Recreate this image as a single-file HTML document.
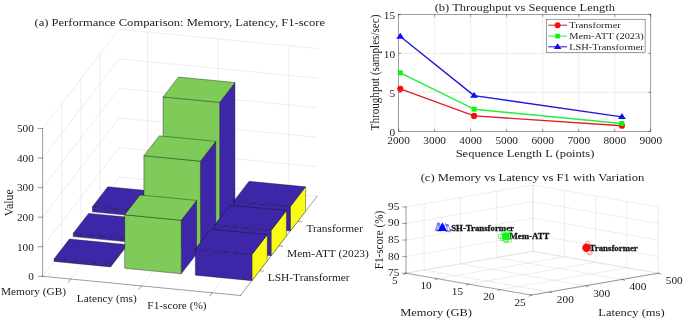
<!DOCTYPE html>
<html><head><meta charset="utf-8"><title>Figure</title>
<style>html,body{margin:0;padding:0;background:#fff}svg{display:block}text{font-family:"Liberation Serif","Times New Roman",serif}</style>
</head><body>
<svg width="685" height="320" viewBox="0 0 685 320">
<rect width="685" height="320" fill="#fff"/>
<g id="plotA">
<line x1="42.55" y1="276.30" x2="119.27" y2="177.10" stroke="#d6d6d6" stroke-width="0.45" />
<line x1="119.27" y1="177.10" x2="317.12" y2="196.31" stroke="#d6d6d6" stroke-width="0.45" />
<line x1="42.55" y1="246.74" x2="119.27" y2="147.54" stroke="#d6d6d6" stroke-width="0.45" />
<line x1="119.27" y1="147.54" x2="317.12" y2="166.75" stroke="#d6d6d6" stroke-width="0.45" />
<line x1="42.55" y1="217.18" x2="119.27" y2="117.98" stroke="#d6d6d6" stroke-width="0.45" />
<line x1="119.27" y1="117.98" x2="317.12" y2="137.19" stroke="#d6d6d6" stroke-width="0.45" />
<line x1="42.55" y1="187.62" x2="119.27" y2="88.42" stroke="#d6d6d6" stroke-width="0.45" />
<line x1="119.27" y1="88.42" x2="317.12" y2="107.63" stroke="#d6d6d6" stroke-width="0.45" />
<line x1="42.55" y1="158.06" x2="119.27" y2="58.86" stroke="#d6d6d6" stroke-width="0.45" />
<line x1="119.27" y1="58.86" x2="317.12" y2="78.07" stroke="#d6d6d6" stroke-width="0.45" />
<line x1="42.55" y1="128.50" x2="119.27" y2="29.30" stroke="#d6d6d6" stroke-width="0.45" />
<line x1="119.27" y1="29.30" x2="317.12" y2="48.51" stroke="#d6d6d6" stroke-width="0.45" />
<line x1="61.73" y1="251.50" x2="61.73" y2="103.70" stroke="#d6d6d6" stroke-width="0.45" />
<line x1="61.73" y1="251.50" x2="259.58" y2="270.71" stroke="#d6d6d6" stroke-width="0.45" />
<line x1="80.91" y1="226.70" x2="80.91" y2="78.90" stroke="#d6d6d6" stroke-width="0.45" />
<line x1="80.91" y1="226.70" x2="278.76" y2="245.91" stroke="#d6d6d6" stroke-width="0.45" />
<line x1="100.09" y1="201.90" x2="100.09" y2="54.10" stroke="#d6d6d6" stroke-width="0.45" />
<line x1="100.09" y1="201.90" x2="297.94" y2="221.11" stroke="#d6d6d6" stroke-width="0.45" />
<line x1="147.53" y1="179.84" x2="147.53" y2="32.04" stroke="#d6d6d6" stroke-width="0.45" />
<line x1="70.81" y1="279.04" x2="147.53" y2="179.84" stroke="#d6d6d6" stroke-width="0.45" />
<line x1="218.19" y1="186.70" x2="218.19" y2="38.90" stroke="#d6d6d6" stroke-width="0.45" />
<line x1="141.47" y1="285.90" x2="218.19" y2="186.70" stroke="#d6d6d6" stroke-width="0.45" />
<line x1="288.85" y1="193.56" x2="288.85" y2="45.76" stroke="#d6d6d6" stroke-width="0.45" />
<line x1="212.13" y1="292.76" x2="288.85" y2="193.56" stroke="#d6d6d6" stroke-width="0.45" />
<line x1="42.55" y1="276.30" x2="42.55" y2="128.50" stroke="#262626" stroke-width="0.45" stroke-linecap="square"/>
<line x1="42.55" y1="276.30" x2="240.40" y2="295.51" stroke="#262626" stroke-width="0.45" stroke-linecap="square"/>
<line x1="240.40" y1="295.51" x2="317.12" y2="196.31" stroke="#262626" stroke-width="0.45" stroke-linecap="square"/>
<line x1="38.25" y1="276.30" x2="42.55" y2="276.30" stroke="#262626" stroke-width="0.45" stroke-linecap="square"/>
<text transform="translate(33.85 280.10) scale(1 0.89)" font-size="11.3" text-anchor="end" font-weight="normal" fill="#1c1c1c">0</text>
<line x1="38.25" y1="246.74" x2="42.55" y2="246.74" stroke="#262626" stroke-width="0.45" stroke-linecap="square"/>
<text transform="translate(33.85 250.54) scale(1 0.89)" font-size="11.3" text-anchor="end" font-weight="normal" fill="#1c1c1c">100</text>
<line x1="38.25" y1="217.18" x2="42.55" y2="217.18" stroke="#262626" stroke-width="0.45" stroke-linecap="square"/>
<text transform="translate(33.85 220.98) scale(1 0.89)" font-size="11.3" text-anchor="end" font-weight="normal" fill="#1c1c1c">200</text>
<line x1="38.25" y1="187.62" x2="42.55" y2="187.62" stroke="#262626" stroke-width="0.45" stroke-linecap="square"/>
<text transform="translate(33.85 191.42) scale(1 0.89)" font-size="11.3" text-anchor="end" font-weight="normal" fill="#1c1c1c">300</text>
<line x1="38.25" y1="158.06" x2="42.55" y2="158.06" stroke="#262626" stroke-width="0.45" stroke-linecap="square"/>
<text transform="translate(33.85 161.86) scale(1 0.89)" font-size="11.3" text-anchor="end" font-weight="normal" fill="#1c1c1c">400</text>
<line x1="38.25" y1="128.50" x2="42.55" y2="128.50" stroke="#262626" stroke-width="0.45" stroke-linecap="square"/>
<text transform="translate(33.85 132.30) scale(1 0.89)" font-size="11.3" text-anchor="end" font-weight="normal" fill="#1c1c1c">500</text>
<line x1="70.81" y1="279.04" x2="68.31" y2="282.24" stroke="#262626" stroke-width="0.45" stroke-linecap="square"/>
<line x1="141.47" y1="285.90" x2="138.97" y2="289.10" stroke="#262626" stroke-width="0.45" stroke-linecap="square"/>
<line x1="212.13" y1="292.76" x2="209.63" y2="295.96" stroke="#262626" stroke-width="0.45" stroke-linecap="square"/>
<line x1="259.58" y1="270.71" x2="263.38" y2="271.11" stroke="#262626" stroke-width="0.45" stroke-linecap="square"/>
<line x1="278.76" y1="245.91" x2="282.56" y2="246.31" stroke="#262626" stroke-width="0.45" stroke-linecap="square"/>
<line x1="297.94" y1="221.11" x2="301.74" y2="221.51" stroke="#262626" stroke-width="0.45" stroke-linecap="square"/>
<polygon points="148.95,217.31 164.29,197.47 164.29,192.30 148.95,212.13" fill="#3d26a8" stroke="#101010" stroke-width="0.38" stroke-linejoin="round"/>
<polygon points="92.42,211.82 148.95,217.31 148.95,212.13 92.42,206.65" fill="#3d26a8" stroke="#101010" stroke-width="0.38" stroke-linejoin="round"/>
<polygon points="92.42,206.65 148.95,212.13 164.29,192.30 107.76,186.81" fill="#3d26a8" stroke="#101010" stroke-width="0.38" stroke-linejoin="round"/>
<polygon points="219.61,224.17 234.95,204.33 234.95,82.54 219.61,102.38" fill="#3d26a8" stroke="#101010" stroke-width="0.38" stroke-linejoin="round"/>
<polygon points="163.08,218.68 219.61,224.17 219.61,102.38 163.08,96.89" fill="#7fcb5a" stroke="#101010" stroke-width="0.38" stroke-linejoin="round"/>
<polygon points="163.08,96.89 219.61,102.38 234.95,82.54 178.42,77.05" fill="#7fcb5a" stroke="#101010" stroke-width="0.38" stroke-linejoin="round"/>
<polygon points="290.27,231.03 305.61,211.19 305.61,186.80 290.27,206.64" fill="#f9fb15" stroke="#101010" stroke-width="0.38" stroke-linejoin="round"/>
<polygon points="233.74,225.54 290.27,231.03 290.27,206.64 233.74,201.15" fill="#3d26a8" stroke="#101010" stroke-width="0.38" stroke-linejoin="round"/>
<polygon points="233.74,201.15 290.27,206.64 305.61,186.80 249.08,181.31" fill="#3d26a8" stroke="#101010" stroke-width="0.38" stroke-linejoin="round"/>
<polygon points="129.77,242.11 145.11,222.27 145.11,218.87 129.77,238.71" fill="#3d26a8" stroke="#101010" stroke-width="0.38" stroke-linejoin="round"/>
<polygon points="73.24,236.62 129.77,242.11 129.77,238.71 73.24,233.22" fill="#3d26a8" stroke="#101010" stroke-width="0.38" stroke-linejoin="round"/>
<polygon points="73.24,233.22 129.77,238.71 145.11,218.87 88.58,213.38" fill="#3d26a8" stroke="#101010" stroke-width="0.38" stroke-linejoin="round"/>
<polygon points="200.43,248.97 215.77,229.13 215.77,141.33 200.43,161.17" fill="#3d26a8" stroke="#101010" stroke-width="0.38" stroke-linejoin="round"/>
<polygon points="143.90,243.48 200.43,248.97 200.43,161.17 143.90,155.69" fill="#7fcb5a" stroke="#101010" stroke-width="0.38" stroke-linejoin="round"/>
<polygon points="143.90,155.69 200.43,161.17 215.77,141.33 159.24,135.85" fill="#7fcb5a" stroke="#101010" stroke-width="0.38" stroke-linejoin="round"/>
<polygon points="271.09,255.83 286.43,235.99 286.43,210.57 271.09,230.41" fill="#f9fb15" stroke="#101010" stroke-width="0.38" stroke-linejoin="round"/>
<polygon points="214.56,250.34 271.09,255.83 271.09,230.41 214.56,224.92" fill="#3d26a8" stroke="#101010" stroke-width="0.38" stroke-linejoin="round"/>
<polygon points="214.56,224.92 271.09,230.41 286.43,210.57 229.90,205.08" fill="#3d26a8" stroke="#101010" stroke-width="0.38" stroke-linejoin="round"/>
<polygon points="110.59,266.91 125.93,247.07 125.93,244.56 110.59,264.40" fill="#3d26a8" stroke="#101010" stroke-width="0.38" stroke-linejoin="round"/>
<polygon points="54.06,261.42 110.59,266.91 110.59,264.40 54.06,258.91" fill="#3d26a8" stroke="#101010" stroke-width="0.38" stroke-linejoin="round"/>
<polygon points="54.06,258.91 110.59,264.40 125.93,244.56 69.40,239.07" fill="#3d26a8" stroke="#101010" stroke-width="0.38" stroke-linejoin="round"/>
<polygon points="181.25,273.77 196.59,253.93 196.59,200.42 181.25,220.26" fill="#3d26a8" stroke="#101010" stroke-width="0.38" stroke-linejoin="round"/>
<polygon points="124.72,268.28 181.25,273.77 181.25,220.26 124.72,214.78" fill="#7fcb5a" stroke="#101010" stroke-width="0.38" stroke-linejoin="round"/>
<polygon points="124.72,214.78 181.25,220.26 196.59,200.42 140.06,194.94" fill="#7fcb5a" stroke="#101010" stroke-width="0.38" stroke-linejoin="round"/>
<polygon points="251.91,280.63 267.25,260.79 267.25,234.63 251.91,254.47" fill="#f9fb15" stroke="#101010" stroke-width="0.38" stroke-linejoin="round"/>
<polygon points="195.38,275.14 251.91,280.63 251.91,254.47 195.38,248.98" fill="#3d26a8" stroke="#101010" stroke-width="0.38" stroke-linejoin="round"/>
<polygon points="195.38,248.98 251.91,254.47 267.25,234.63 210.72,229.14" fill="#3d26a8" stroke="#101010" stroke-width="0.38" stroke-linejoin="round"/>
<text transform="translate(179.80 26.00) scale(1 0.89)" font-size="12.56" text-anchor="middle" font-weight="normal" fill="#1c1c1c">(a) Performance Comparison: Memory, Latency, F1-score</text>
<text transform="translate(33.50 295.00) scale(1 0.89)" font-size="11.3" text-anchor="middle" font-weight="normal" fill="#1c1c1c">Memory (GB)</text>
<text transform="translate(106.80 301.80) scale(1 0.89)" font-size="11.3" text-anchor="middle" font-weight="normal" fill="#1c1c1c">Latency (ms)</text>
<text transform="translate(177.00 308.50) scale(1 0.89)" font-size="11.3" text-anchor="middle" font-weight="normal" fill="#1c1c1c">F1-score (%)</text>
<text transform="translate(267.80 281.20) scale(1 0.89)" font-size="11.4" text-anchor="start" font-weight="normal" fill="#1c1c1c">LSH-Transformer</text>
<text transform="translate(287.10 256.60) scale(1 0.89)" font-size="11.4" text-anchor="start" font-weight="normal" fill="#1c1c1c">Mem-ATT (2023)</text>
<text transform="translate(306.40 231.90) scale(1 0.89)" font-size="11.4" text-anchor="start" font-weight="normal" fill="#1c1c1c">Transformer</text>
<text transform="translate(12.90 202.80) rotate(-90) scale(0.945 1)" font-size="12.5" text-anchor="middle" font-weight="normal" fill="#1c1c1c">Value</text>
</g>
<g id="plotB">
<line x1="434.63" y1="14.30" x2="434.63" y2="131.30" stroke="#d6d6d6" stroke-width="0.45" />
<line x1="470.66" y1="14.30" x2="470.66" y2="131.30" stroke="#d6d6d6" stroke-width="0.45" />
<line x1="506.69" y1="14.30" x2="506.69" y2="131.30" stroke="#d6d6d6" stroke-width="0.45" />
<line x1="542.71" y1="14.30" x2="542.71" y2="131.30" stroke="#d6d6d6" stroke-width="0.45" />
<line x1="578.74" y1="14.30" x2="578.74" y2="131.30" stroke="#d6d6d6" stroke-width="0.45" />
<line x1="614.77" y1="14.30" x2="614.77" y2="131.30" stroke="#d6d6d6" stroke-width="0.45" />
<line x1="398.60" y1="92.30" x2="650.80" y2="92.30" stroke="#d6d6d6" stroke-width="0.45" />
<line x1="398.60" y1="53.30" x2="650.80" y2="53.30" stroke="#d6d6d6" stroke-width="0.45" />
<rect x="398.6" y="14.3" width="252.20" height="117.00" fill="none" stroke="#262626" stroke-width="0.45"/>
<line x1="398.60" y1="131.30" x2="398.60" y2="128.80" stroke="#262626" stroke-width="0.45" />
<line x1="398.60" y1="14.30" x2="398.60" y2="16.80" stroke="#262626" stroke-width="0.45" />
<text transform="translate(398.60 144.10) scale(1 0.89)" font-size="11.3" text-anchor="middle" font-weight="normal" fill="#1c1c1c">2000</text>
<line x1="434.63" y1="131.30" x2="434.63" y2="128.80" stroke="#262626" stroke-width="0.45" />
<line x1="434.63" y1="14.30" x2="434.63" y2="16.80" stroke="#262626" stroke-width="0.45" />
<text transform="translate(434.63 144.10) scale(1 0.89)" font-size="11.3" text-anchor="middle" font-weight="normal" fill="#1c1c1c">3000</text>
<line x1="470.66" y1="131.30" x2="470.66" y2="128.80" stroke="#262626" stroke-width="0.45" />
<line x1="470.66" y1="14.30" x2="470.66" y2="16.80" stroke="#262626" stroke-width="0.45" />
<text transform="translate(470.66 144.10) scale(1 0.89)" font-size="11.3" text-anchor="middle" font-weight="normal" fill="#1c1c1c">4000</text>
<line x1="506.69" y1="131.30" x2="506.69" y2="128.80" stroke="#262626" stroke-width="0.45" />
<line x1="506.69" y1="14.30" x2="506.69" y2="16.80" stroke="#262626" stroke-width="0.45" />
<text transform="translate(506.69 144.10) scale(1 0.89)" font-size="11.3" text-anchor="middle" font-weight="normal" fill="#1c1c1c">5000</text>
<line x1="542.71" y1="131.30" x2="542.71" y2="128.80" stroke="#262626" stroke-width="0.45" />
<line x1="542.71" y1="14.30" x2="542.71" y2="16.80" stroke="#262626" stroke-width="0.45" />
<text transform="translate(542.71 144.10) scale(1 0.89)" font-size="11.3" text-anchor="middle" font-weight="normal" fill="#1c1c1c">6000</text>
<line x1="578.74" y1="131.30" x2="578.74" y2="128.80" stroke="#262626" stroke-width="0.45" />
<line x1="578.74" y1="14.30" x2="578.74" y2="16.80" stroke="#262626" stroke-width="0.45" />
<text transform="translate(578.74 144.10) scale(1 0.89)" font-size="11.3" text-anchor="middle" font-weight="normal" fill="#1c1c1c">7000</text>
<line x1="614.77" y1="131.30" x2="614.77" y2="128.80" stroke="#262626" stroke-width="0.45" />
<line x1="614.77" y1="14.30" x2="614.77" y2="16.80" stroke="#262626" stroke-width="0.45" />
<text transform="translate(614.77 144.10) scale(1 0.89)" font-size="11.3" text-anchor="middle" font-weight="normal" fill="#1c1c1c">8000</text>
<line x1="650.80" y1="131.30" x2="650.80" y2="128.80" stroke="#262626" stroke-width="0.45" />
<line x1="650.80" y1="14.30" x2="650.80" y2="16.80" stroke="#262626" stroke-width="0.45" />
<text transform="translate(650.80 144.10) scale(1 0.89)" font-size="11.3" text-anchor="middle" font-weight="normal" fill="#1c1c1c">9000</text>
<line x1="398.60" y1="131.30" x2="401.10" y2="131.30" stroke="#262626" stroke-width="0.45" />
<line x1="650.80" y1="131.30" x2="648.30" y2="131.30" stroke="#262626" stroke-width="0.45" />
<text transform="translate(395.10 135.80) scale(1 0.89)" font-size="11.3" text-anchor="end" font-weight="normal" fill="#1c1c1c">0</text>
<line x1="398.60" y1="92.30" x2="401.10" y2="92.30" stroke="#262626" stroke-width="0.45" />
<line x1="650.80" y1="92.30" x2="648.30" y2="92.30" stroke="#262626" stroke-width="0.45" />
<text transform="translate(395.10 96.80) scale(1 0.89)" font-size="11.3" text-anchor="end" font-weight="normal" fill="#1c1c1c">5</text>
<line x1="398.60" y1="53.30" x2="401.10" y2="53.30" stroke="#262626" stroke-width="0.45" />
<line x1="650.80" y1="53.30" x2="648.30" y2="53.30" stroke="#262626" stroke-width="0.45" />
<text transform="translate(395.10 57.80) scale(1 0.89)" font-size="11.3" text-anchor="end" font-weight="normal" fill="#1c1c1c">10</text>
<line x1="398.60" y1="14.30" x2="401.10" y2="14.30" stroke="#262626" stroke-width="0.45" />
<line x1="650.80" y1="14.30" x2="648.30" y2="14.30" stroke="#262626" stroke-width="0.45" />
<text transform="translate(395.10 18.80) scale(1 0.89)" font-size="11.3" text-anchor="end" font-weight="normal" fill="#1c1c1c">15</text>
<polyline points="400.30,88.80 474.10,115.90 621.90,125.70" fill="none" stroke="#e02028" stroke-width="1.4" stroke-linejoin="round"/>
<circle cx="400.30" cy="88.80" r="3.10" fill="#f80c0c"/>
<circle cx="474.10" cy="115.90" r="3.10" fill="#f80c0c"/>
<circle cx="621.90" cy="125.70" r="3.10" fill="#f80c0c"/>
<polyline points="400.30,72.80 474.10,109.20 621.90,123.50" fill="none" stroke="#22f03a" stroke-width="1.4" stroke-linejoin="round"/>
<rect x="397.85" y="70.35" width="4.90" height="4.90" fill="#0cf50c"/>
<rect x="471.65" y="106.75" width="4.90" height="4.90" fill="#0cf50c"/>
<rect x="619.45" y="121.05" width="4.90" height="4.90" fill="#0cf50c"/>
<polyline points="400.30,36.50 474.10,95.60 621.90,116.90" fill="none" stroke="#2218d8" stroke-width="1.4" stroke-linejoin="round"/>
<polygon points="400.30,32.82 404.30,38.70 396.30,38.70" fill="#0c0cf5"/>
<polygon points="474.10,91.92 478.10,97.80 470.10,97.80" fill="#0c0cf5"/>
<polygon points="621.90,113.22 625.90,119.10 617.90,119.10" fill="#0c0cf5"/>
<rect x="546.3" y="19.2" width="98.8" height="33" fill="#fff" stroke="#262626" stroke-width="0.45"/>
<line x1="548.30" y1="25.20" x2="567.00" y2="25.20" stroke="#e02028" stroke-width="1.05" />
<circle cx="557.60" cy="25.20" r="2.94" fill="#f80c0c"/>
<text transform="translate(569.20 28.00) scale(1 0.89)" font-size="10.4" text-anchor="start" font-weight="normal" fill="#1c1c1c">Transformer</text>
<line x1="548.30" y1="36.10" x2="567.00" y2="36.10" stroke="#22f03a" stroke-width="1.05" />
<rect x="555.27" y="33.77" width="4.66" height="4.66" fill="#0cf50c"/>
<text transform="translate(569.20 38.90) scale(1 0.89)" font-size="10.4" text-anchor="start" font-weight="normal" fill="#1c1c1c">Mem-ATT (2023)</text>
<line x1="548.30" y1="46.80" x2="567.00" y2="46.80" stroke="#2218d8" stroke-width="1.05" />
<polygon points="557.60,43.30 561.40,48.89 553.80,48.89" fill="#0c0cf5"/>
<text transform="translate(569.20 49.60) scale(1 0.89)" font-size="10.4" text-anchor="start" font-weight="normal" fill="#1c1c1c">LSH-Transformer</text>
<text transform="translate(524.80 10.60) scale(1 0.89)" font-size="12.5" text-anchor="middle" font-weight="normal" fill="#1c1c1c">(b) Throughput vs Sequence Length</text>
<text transform="translate(525.00 156.90) scale(1 0.89)" font-size="12.5" text-anchor="middle" font-weight="normal" fill="#1c1c1c">Sequence Length L (points)</text>
<text transform="translate(378.50 72.50) rotate(-90) scale(0.89 1)" font-size="12.5" text-anchor="middle" font-weight="normal" fill="#1c1c1c">Throughput (samples/sec)</text>
</g>
<g id="plotC">
<line x1="406.00" y1="273.20" x2="533.00" y2="251.30" stroke="#d6d6d6" stroke-width="0.45" />
<line x1="533.00" y1="251.30" x2="658.30" y2="273.20" stroke="#d6d6d6" stroke-width="0.45" />
<line x1="533.00" y1="251.30" x2="533.00" y2="185.00" stroke="#d6d6d6" stroke-width="0.45" />
<line x1="406.00" y1="273.20" x2="533.00" y2="251.30" stroke="#d6d6d6" stroke-width="0.45" />
<line x1="406.00" y1="256.62" x2="533.00" y2="234.72" stroke="#d6d6d6" stroke-width="0.45" />
<line x1="533.00" y1="234.72" x2="658.30" y2="256.62" stroke="#d6d6d6" stroke-width="0.45" />
<line x1="564.33" y1="256.78" x2="564.33" y2="190.48" stroke="#d6d6d6" stroke-width="0.45" />
<line x1="437.32" y1="278.68" x2="564.33" y2="256.78" stroke="#d6d6d6" stroke-width="0.45" />
<line x1="406.00" y1="240.05" x2="533.00" y2="218.15" stroke="#d6d6d6" stroke-width="0.45" />
<line x1="533.00" y1="218.15" x2="658.30" y2="240.05" stroke="#d6d6d6" stroke-width="0.45" />
<line x1="595.65" y1="262.25" x2="595.65" y2="195.95" stroke="#d6d6d6" stroke-width="0.45" />
<line x1="468.65" y1="284.15" x2="595.65" y2="262.25" stroke="#d6d6d6" stroke-width="0.45" />
<line x1="406.00" y1="223.47" x2="533.00" y2="201.57" stroke="#d6d6d6" stroke-width="0.45" />
<line x1="533.00" y1="201.57" x2="658.30" y2="223.47" stroke="#d6d6d6" stroke-width="0.45" />
<line x1="626.98" y1="267.73" x2="626.98" y2="201.43" stroke="#d6d6d6" stroke-width="0.45" />
<line x1="499.98" y1="289.62" x2="626.98" y2="267.73" stroke="#d6d6d6" stroke-width="0.45" />
<line x1="406.00" y1="206.90" x2="533.00" y2="185.00" stroke="#d6d6d6" stroke-width="0.45" />
<line x1="533.00" y1="185.00" x2="658.30" y2="206.90" stroke="#d6d6d6" stroke-width="0.45" />
<line x1="658.30" y1="273.20" x2="658.30" y2="206.90" stroke="#d6d6d6" stroke-width="0.45" />
<line x1="531.30" y1="295.10" x2="658.30" y2="273.20" stroke="#d6d6d6" stroke-width="0.45" />
<line x1="424.14" y1="270.07" x2="424.14" y2="203.77" stroke="#d6d6d6" stroke-width="0.45" />
<line x1="424.14" y1="270.07" x2="549.44" y2="291.97" stroke="#d6d6d6" stroke-width="0.45" />
<line x1="460.43" y1="263.81" x2="460.43" y2="197.51" stroke="#d6d6d6" stroke-width="0.45" />
<line x1="460.43" y1="263.81" x2="585.73" y2="285.71" stroke="#d6d6d6" stroke-width="0.45" />
<line x1="496.71" y1="257.56" x2="496.71" y2="191.26" stroke="#d6d6d6" stroke-width="0.45" />
<line x1="496.71" y1="257.56" x2="622.01" y2="279.46" stroke="#d6d6d6" stroke-width="0.45" />
<line x1="533.00" y1="251.30" x2="533.00" y2="185.00" stroke="#d6d6d6" stroke-width="0.45" />
<line x1="533.00" y1="251.30" x2="658.30" y2="273.20" stroke="#d6d6d6" stroke-width="0.45" />
<line x1="406.00" y1="273.20" x2="406.00" y2="206.90" stroke="#262626" stroke-width="0.45" stroke-linecap="square"/>
<line x1="406.00" y1="273.20" x2="531.30" y2="295.10" stroke="#262626" stroke-width="0.45" stroke-linecap="square"/>
<line x1="531.30" y1="295.10" x2="658.30" y2="273.20" stroke="#262626" stroke-width="0.45" stroke-linecap="square"/>
<line x1="402.70" y1="273.20" x2="406.00" y2="273.20" stroke="#262626" stroke-width="0.45" stroke-linecap="square"/>
<text transform="translate(399.40 276.10) scale(1 0.89)" font-size="11.3" text-anchor="end" font-weight="normal" fill="#1c1c1c">75</text>
<line x1="402.70" y1="256.62" x2="406.00" y2="256.62" stroke="#262626" stroke-width="0.45" stroke-linecap="square"/>
<text transform="translate(399.40 259.52) scale(1 0.89)" font-size="11.3" text-anchor="end" font-weight="normal" fill="#1c1c1c">80</text>
<line x1="402.70" y1="240.05" x2="406.00" y2="240.05" stroke="#262626" stroke-width="0.45" stroke-linecap="square"/>
<text transform="translate(399.40 242.95) scale(1 0.89)" font-size="11.3" text-anchor="end" font-weight="normal" fill="#1c1c1c">85</text>
<line x1="402.70" y1="223.47" x2="406.00" y2="223.47" stroke="#262626" stroke-width="0.45" stroke-linecap="square"/>
<text transform="translate(399.40 226.38) scale(1 0.89)" font-size="11.3" text-anchor="end" font-weight="normal" fill="#1c1c1c">90</text>
<line x1="402.70" y1="206.90" x2="406.00" y2="206.90" stroke="#262626" stroke-width="0.45" stroke-linecap="square"/>
<text transform="translate(399.40 209.80) scale(1 0.89)" font-size="11.3" text-anchor="end" font-weight="normal" fill="#1c1c1c">95</text>
<line x1="406.00" y1="273.20" x2="403.80" y2="274.20" stroke="#262626" stroke-width="0.45" stroke-linecap="square"/>
<text transform="translate(394.80 284.00) scale(1 0.89)" font-size="11.3" text-anchor="middle" font-weight="normal" fill="#1c1c1c">5</text>
<line x1="437.32" y1="278.68" x2="435.12" y2="279.68" stroke="#262626" stroke-width="0.45" stroke-linecap="square"/>
<text transform="translate(426.12 289.48) scale(1 0.89)" font-size="11.3" text-anchor="middle" font-weight="normal" fill="#1c1c1c">10</text>
<line x1="468.65" y1="284.15" x2="466.45" y2="285.15" stroke="#262626" stroke-width="0.45" stroke-linecap="square"/>
<text transform="translate(457.45 294.95) scale(1 0.89)" font-size="11.3" text-anchor="middle" font-weight="normal" fill="#1c1c1c">15</text>
<line x1="499.98" y1="289.62" x2="497.78" y2="290.62" stroke="#262626" stroke-width="0.45" stroke-linecap="square"/>
<text transform="translate(488.78 300.43) scale(1 0.89)" font-size="11.3" text-anchor="middle" font-weight="normal" fill="#1c1c1c">20</text>
<line x1="531.30" y1="295.10" x2="529.10" y2="296.10" stroke="#262626" stroke-width="0.45" stroke-linecap="square"/>
<text transform="translate(520.10 305.90) scale(1 0.89)" font-size="11.3" text-anchor="middle" font-weight="normal" fill="#1c1c1c">25</text>
<line x1="549.44" y1="291.97" x2="551.84" y2="292.77" stroke="#262626" stroke-width="0.45" stroke-linecap="square"/>
<text transform="translate(565.34 302.97) scale(1 0.89)" font-size="11.3" text-anchor="middle" font-weight="normal" fill="#1c1c1c">200</text>
<line x1="585.73" y1="285.71" x2="588.13" y2="286.51" stroke="#262626" stroke-width="0.45" stroke-linecap="square"/>
<text transform="translate(601.63 296.71) scale(1 0.89)" font-size="11.3" text-anchor="middle" font-weight="normal" fill="#1c1c1c">300</text>
<line x1="622.01" y1="279.46" x2="624.41" y2="280.26" stroke="#262626" stroke-width="0.45" stroke-linecap="square"/>
<text transform="translate(637.91 290.46) scale(1 0.89)" font-size="11.3" text-anchor="middle" font-weight="normal" fill="#1c1c1c">400</text>
<line x1="658.30" y1="273.20" x2="660.70" y2="274.00" stroke="#262626" stroke-width="0.45" stroke-linecap="square"/>
<text transform="translate(674.20 284.20) scale(1 0.89)" font-size="11.3" text-anchor="middle" font-weight="normal" fill="#1c1c1c">500</text>
<text transform="translate(436.10 315.70) scale(1 0.89)" font-size="12.5" text-anchor="middle" font-weight="normal" fill="#1c1c1c">Memory (GB)</text>
<text transform="translate(631.40 315.70) scale(1 0.89)" font-size="12.5" text-anchor="middle" font-weight="normal" fill="#1c1c1c">Latency (ms)</text>
<text transform="translate(383.10 240.00) rotate(-90) scale(0.89 1)" font-size="12.5" text-anchor="middle" font-weight="normal" fill="#1c1c1c">F1-score (%)</text>
<text transform="translate(532.50 180.70) scale(1 0.89)" font-size="12.6" text-anchor="middle" font-weight="normal" fill="#1c1c1c">(c) Memory vs Latency vs F1 with Variation</text>
<text transform="translate(445.30 230.90) scale(1 0.9)" font-size="8.8" text-anchor="start" font-weight="bold" fill="#111" stroke="#111" stroke-width="0.3">LSH-Transformer</text>
<text transform="translate(509.50 239.30) scale(1 0.9)" font-size="8.8" text-anchor="start" font-weight="bold" fill="#111" stroke="#111" stroke-width="0.3">Mem-ATT</text>
<text transform="translate(589.60 251.30) scale(1 0.9)" font-size="8.8" text-anchor="start" font-weight="bold" fill="#111" stroke="#111" stroke-width="0.3">Transformer</text>
<polygon points="437.70,223.00 440.30,230.60 435.10,230.60" fill="none" stroke="#0a0af5" stroke-width="0.4" stroke-linejoin="round"/>
<polygon points="438.60,222.20 441.20,230.20 436.00,230.20" fill="none" stroke="#0a0af5" stroke-width="0.4" stroke-linejoin="round"/>
<polygon points="439.60,223.40 442.20,231.00 437.00,231.00" fill="none" stroke="#0a0af5" stroke-width="0.4" stroke-linejoin="round"/>
<polygon points="447.40,224.00 450.00,230.80 444.80,230.80" fill="#fff" stroke="#0a0af5" stroke-width="0.4" stroke-linejoin="round"/>
<polygon points="448.00,224.60 450.60,231.00 445.40,231.00" fill="#fff" stroke="#0a0af5" stroke-width="0.4" stroke-linejoin="round"/>
<polygon points="445.50,223.40 448.10,230.60 442.90,230.60" fill="#fff" stroke="#0a0af5" stroke-width="0.4" stroke-linejoin="round"/>
<polygon points="442.40,222.30 447.10,231.10 437.70,231.10" fill="#0a0af5"/>
<rect x="498.70" y="234.60" width="3.6" height="3.6" fill="none" stroke="#14f014" stroke-width="0.5"/>
<rect x="501.70" y="231.10" width="3.6" height="3.6" fill="none" stroke="#14f014" stroke-width="0.5"/>
<rect x="507.50" y="238.60" width="3.6" height="3.6" fill="none" stroke="#14f014" stroke-width="0.5"/>
<rect x="503.20" y="238.20" width="3.6" height="3.6" fill="none" stroke="#14f014" stroke-width="0.5"/>
<rect x="505.70" y="230.60" width="3.6" height="3.6" fill="none" stroke="#14f014" stroke-width="0.5"/>
<rect x="508.20" y="231.90" width="3.6" height="3.6" fill="none" stroke="#14f014" stroke-width="0.5"/>
<rect x="500.40" y="236.90" width="3.6" height="3.6" fill="none" stroke="#14f014" stroke-width="0.5"/>
<rect x="504.70" y="238.90" width="3.6" height="3.6" fill="none" stroke="#14f014" stroke-width="0.5"/>
<rect x="502.3" y="232.5" width="7.4" height="7.4" fill="#14f014"/>
<circle cx="590.00" cy="252.90" r="2.1" fill="#fff" stroke="#f50a0a" stroke-width="0.4"/>
<circle cx="587.70" cy="243.20" r="2.1" fill="#fff" stroke="#f50a0a" stroke-width="0.4"/>
<circle cx="588.60" cy="252.00" r="2.1" fill="#fff" stroke="#f50a0a" stroke-width="0.4"/>
<circle cx="586.6" cy="247.8" r="4.3" fill="#f50a0a"/>
</g>
</svg>
</body></html>
